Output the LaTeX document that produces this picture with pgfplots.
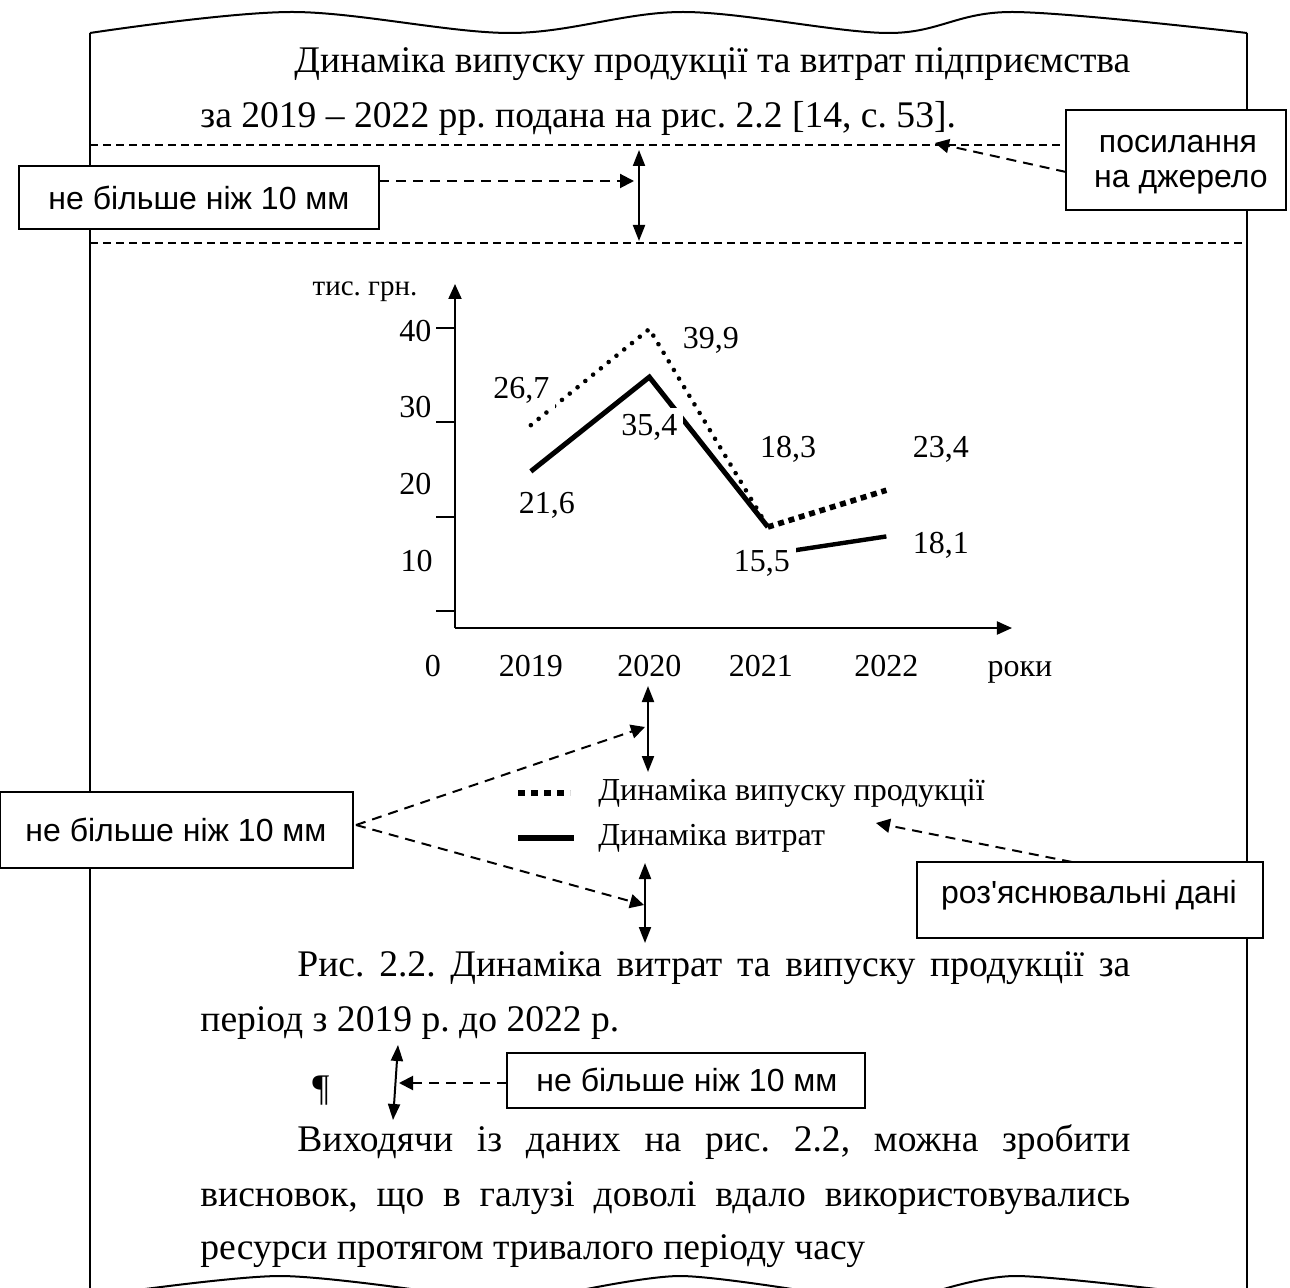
\documentclass[border=0pt]{standalone}
\usepackage{fontspec}
\setmainfont{Liberation Serif}
\newfontfamily\arial{Liberation Sans}
\usepackage{pgfplots}
\pgfplotsset{compat=1.18}
\usetikzlibrary{arrows.meta}

\newcommand\body{\fontsize{18.8}{22}\selectfont}
\newcommand\chartfont{\fontsize{16}{19}\selectfont}
\newcommand\note{\arial\fontsize{16}{19}\selectfont}

\tikzset{
  dasharrow/.style={line width=1pt, dash pattern=on 5pt off 3.5pt, -{Triangle[length=7pt,width=7pt]}},
  twoway/.style={line width=1pt, {Triangle[length=8pt,width=6pt]}-{Triangle[length=8pt,width=6pt]}},
  callout/.style={draw, line width=1pt, fill=white},
  guide/.style={line width=0.8pt, dash pattern=on 4pt off 2.5pt},
  txt/.style={anchor=base west, inner sep=0pt, font=\body}
}

\begin{document}
\frenchspacing
\begin{tikzpicture}
% page sketch, in pixel units (y downwards)
\begin{scope}[x=0.5pt, y=-0.5pt]
\useasboundingbox (0,0) rectangle (1290,1288);
\draw[line width=1pt] (90,1288) -- (90,33);
\draw[line width=1pt] (1247,1288) -- (1247,33);
\draw[line width=1pt] plot[smooth, tension=0.55] coordinates {(90,33) (292,12) (510,33) (683,12) (889,33) (1012,12) (1247,33)};
\draw[line width=1pt] plot[smooth] coordinates {(123,1292) (280,1276) (432,1292)};
\draw[line width=1pt] plot[smooth] coordinates {(572,1292) (680,1276) (811,1292)};
\draw[line width=1pt] plot[smooth] coordinates {(934,1292) (1016,1276) (1182,1292)};

% text
\node[txt] at (294,73) {\makebox[418pt][s]{Динаміка випуску продукції та витрат підприємства}};
\node[txt] at (200,128) {за 2019 -- 2022 рр. подана на рис. 2.2 [14, с. 53].};
\node[txt] at (297,976) {\makebox[416.5pt][s]{Рис. 2.2. Динаміка витрат та випуску продукції за}};
\node[txt] at (200,1031) {період з 2019 р. до 2022 р.};
\node[txt] at (312,1100) {¶};
\node[txt] at (297,1151) {\makebox[416.5pt][s]{Виходячи із даних на рис. 2.2, можна зробити}};
\node[txt] at (200,1206) {\makebox[465pt][s]{висновок, що в галузі доволі вдало використовувались}};
\node[txt] at (200,1259) {ресурси протягом тривалого періоду часу};

% guide lines
\draw[guide] (90,145) -- (1247,145);
\draw[guide] (90,243) -- (1247,243);

% arrows
\draw[dasharrow] (379,181) -- (634,181);
\draw[twoway] (639,150) -- (639,241);
\draw[dasharrow] (1066,172) -- (935,143);
\draw[twoway] (648,686) -- (648,772);
\draw[dasharrow] (356,825) -- (645,727);
\draw[dasharrow] (356,825) -- (644,905);
\draw[twoway] (645,863) -- (645,943);
\draw[dasharrow] (1072,862) -- (876,823);
\draw[twoway] (398,1045) -- (393,1120);
\draw[dasharrow] (507,1083) -- (399,1083);

% callout boxes
\draw[callout] (19,166) rectangle (379,229);
\node[anchor=base, font=\note] at (199,210) {не більше ніж 10 мм};
\draw[callout] (1066,110) rectangle (1286,210);
\node[anchor=base, font=\note] at (1178,153) {посилання};
\node[anchor=base, font=\note] at (1181,188) {на джерело};
\draw[callout] (0,792) rectangle (353,868);
\node[anchor=base, font=\note] at (176,841) {не більше ніж 10 мм};
\draw[callout] (917,862) rectangle (1263,938);
\node[anchor=base, font=\note] at (1089,903) {роз'яснювальні дані};
\draw[callout] (507,1053) rectangle (865,1108);
\node[anchor=base, font=\note] at (687,1091) {не більше ніж 10 мм};
\end{scope}

% the chart
\begin{axis}[
  at={(227.5pt,-314pt)}, anchor=south west,
  scale only axis, width=278.5pt, height=172pt,
  xmin=2018.36, xmax=2023.06, ymin=8.19, ymax=44.67,
  axis lines=left,
  axis line style={line width=1pt, -{Triangle[length=7.5pt,width=6.5pt]}},
  xtick=\empty,
  ytick={10,20,30,40}, yticklabels={},
  tick align=outside, major tick length=9.5pt,
  major tick style={black, line width=1pt},
  clip=false,
  legend cell align=left,
  legend style={draw=none, fill=none, font=\chartfont,
    at={(axis description cs:0.1077,-0.4375)}, anchor=north west,
    inner sep=0pt, outer sep=0pt, row sep=8pt, column sep=10.5pt,
    nodes={inner sep=0pt, text height=11pt, text depth=3.5pt}},
]
\addplot[line width=2.3pt, line cap=round, dash pattern=on 0.01pt off 5pt,
  legend image code/.code={\draw[line width=3.4pt, line cap=butt, dash pattern=on 3.4pt off 3.1pt] (0pt,0pt) -- (26pt,0pt);}]
  coordinates {(2019,29.7) (2020,39.9) (2021,18.9)};
\addlegendentry{Динаміка випуску продукції}
\addplot[line width=2.5pt,
  legend image code/.code={\draw[line width=3pt, line cap=butt] (0pt,0pt) -- (28pt,0pt);}]
  coordinates {(2019,24.8) (2020,34.8) (2021,18.9)};
\addlegendentry{Динаміка витрат}
\addplot[forget plot, line width=2.8pt, line cap=butt, dash pattern=on 3pt off 2.4pt]
  coordinates {(2021,18.9) (2022,22.8)};
\addplot[forget plot, line width=2.2pt]
  coordinates {(2021,16.0) (2022,17.9)};

% axis labels
\begin{scope}[every node/.style={inner sep=0pt, font=\chartfont}]
\node[anchor=base east, font=\fontsize{14.5}{17}\selectfont] at (axis cs:2018.046,43.5) {тис. грн.};
\node[anchor=base east] at (axis cs:2018.165,38.62) {40};
\node[anchor=base east] at (axis cs:2018.165,30.46) {30};
\node[anchor=base east] at (axis cs:2018.165,22.40) {20};
\node[anchor=base east] at (axis cs:2018.175,14.23) {10};
\node[anchor=base] at (axis cs:2018.173,3.10) {0};
\node[anchor=base] at (axis cs:2019,3.10) {2019};
\node[anchor=base] at (axis cs:2020,3.10) {2020};
\node[anchor=base] at (axis cs:2020.94,3.10) {2021};
\node[anchor=base] at (axis cs:2022,3.10) {2022};
\node[anchor=base west] at (axis cs:2022.85,3.10) {роки};
\end{scope}

% value labels
\begin{scope}[every node/.style={anchor=base, font=\chartfont, fill=white, inner sep=3pt}]
\node at (axis cs:2018.92,32.58) {26,7};
\node at (axis cs:2020.52,37.88) {39,9};
\node at (axis cs:2020.0,28.65) {35,4};
\node at (axis cs:2019.135,20.38) {21,6};
\node at (axis cs:2021.17,26.32) {18,3};
\node at (axis cs:2022.46,26.32) {23,4};
\node at (axis cs:2022.46,16.14) {18,1};
\node at (axis cs:2020.95,14.13) {15,5};
\end{scope}
\end{axis}
\end{tikzpicture}
\end{document}
